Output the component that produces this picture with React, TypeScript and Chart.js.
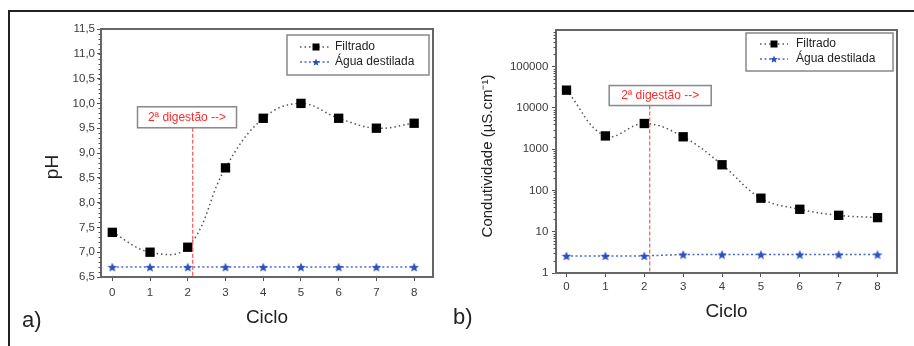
import React, { useEffect, useRef } from 'react';
import { Chart, registerables } from 'chart.js';

Chart.register(...registerables);

// ---------- data ----------
const cycles = [0, 1, 2, 3, 4, 5, 6, 7, 8];
const seriesNames = ['Filtrado', 'Água destilada'];
const phFiltrado = [7.4, 7.0, 7.1, 8.7, 9.7, 10.0, 9.7, 9.5, 9.6];
const phAgua = [6.7, 6.7, 6.7, 6.7, 6.7, 6.7, 6.7, 6.7, 6.7];
const condFiltrado = [27000, 2100, 4200, 2000, 420, 65, 35, 25, 22];
const condAgua = [2.6, 2.6, 2.6, 2.8, 2.8, 2.8, 2.8, 2.8, 2.8];
const phTicks = [6.5, 7.0, 7.5, 8.0, 8.5, 9.0, 9.5, 10.0, 10.5, 11.0, 11.5];
const condTicks = [1, 10, 100, 1000, 10000, 100000];
const noteText = '2ª digestão -->';
const phNote = { lineX: 2.13, boxX: 1.98, boxY: 9.72 };
const condNote = { lineX: 2.14, boxX: 2.41, boxY: 20000 };
const xTitle = 'Ciclo';
const phTitle = 'pH';
const condTitle = 'Condutividade (µS.cm⁻¹)';

const FONT = "'Liberation Sans', Arial, Helvetica, sans-serif";
Chart.defaults.font.family = FONT;

function starImage(size: number, color: string) {
  const c = document.createElement('canvas');
  c.width = size;
  c.height = size;
  const ctx = c.getContext('2d')!;
  const cx = size / 2, cy = size / 2, R = size / 2, r = R * 0.45;
  ctx.beginPath();
  for (let i = 0; i < 10; i++) {
    const ang = -Math.PI / 2 + (i * Math.PI) / 5;
    const rad = i % 2 === 0 ? R : r;
    ctx.lineTo(cx + rad * Math.cos(ang), cy + rad * Math.sin(ang) + 0.5);
  }
  ctx.closePath();
  ctx.fillStyle = color;
  ctx.fill();
  return c;
}

const STAR_COLOR = '#2d51bd';
const starBig = starImage(10, STAR_COLOR);
const starSmall = starImage(8, STAR_COLOR);

// ---------- plugins ----------
const frameAndTicks = {
  id: 'frameAndTicks',
  afterDraw(chart: any, _a: any, o: any) {
    const { ctx, chartArea: a } = chart;
    const y = chart.scales.y;
    ctx.save();
    ctx.strokeStyle = '#666';
    ctx.lineWidth = 2;
    ctx.strokeRect(a.left, a.top, a.right - a.left, a.bottom - a.top);
    const vals: number[] = [];
    if (y.type === 'logarithmic') {
      for (let e = Math.floor(Math.log10(y.min)); Math.pow(10, e) < y.max; e++) {
        for (let k = 2; k <= 9; k++) {
          const v = k * Math.pow(10, e);
          if (v > y.min && v < y.max) vals.push(v);
        }
      }
    } else {
      const n = Math.round((y.max - y.min) / o.minorStep);
      for (let i = 0; i <= n; i++) vals.push(y.min + i * o.minorStep);
    }
    ctx.lineWidth = 1;
    ctx.strokeStyle = '#555';
    ctx.beginPath();
    vals.forEach((v) => {
      const p = Math.round(y.getPixelForValue(v)) + 0.5;
      ctx.moveTo(a.left - 2.5, p);
      ctx.lineTo(a.left, p);
    });
    ctx.stroke();
    ctx.restore();
  },
};

const digestNote = {
  id: 'digestNote',
  afterDatasetsDraw(chart: any, _a: any, o: any) {
    const { ctx, chartArea: a, scales } = chart;
    const x = scales.x, y = scales.y;
    const lx = x.getPixelForValue(o.lineX);
    const bx = x.getPixelForValue(o.boxX);
    const by = y.getPixelForValue(o.boxY);
    const l = bx - o.w / 2, t = by - o.h / 2;
    ctx.save();
    ctx.strokeStyle = '#ff5a5a';
    ctx.lineWidth = 1.2;
    ctx.setLineDash([4, 2]);
    ctx.beginPath();
    ctx.moveTo(lx, t + o.h);
    ctx.lineTo(lx, a.bottom);
    ctx.stroke();
    ctx.setLineDash([]);
    ctx.fillStyle = '#fff';
    ctx.fillRect(l, t, o.w, o.h);
    ctx.strokeStyle = '#888';
    ctx.lineWidth = 1.5;
    ctx.strokeRect(l, t, o.w, o.h);
    ctx.fillStyle = '#ff2a2a';
    ctx.font = `12px ${FONT}`;
    ctx.textAlign = 'center';
    ctx.textBaseline = 'middle';
    ctx.fillText(o.text, bx, by + 0.5);
    ctx.restore();
  },
};

const boxLegend = {
  id: 'boxLegend',
  afterDraw(chart: any, _a: any, o: any) {
    const { ctx, chartArea: a } = chart;
    const left = a.right - o.right - o.width;
    const top = a.top + o.top;
    ctx.save();
    ctx.fillStyle = '#fff';
    ctx.fillRect(left, top, o.width, o.height);
    ctx.strokeStyle = '#888';
    ctx.lineWidth = 1.5;
    ctx.strokeRect(left, top, o.width, o.height);
    chart.data.datasets.forEach((ds: any, i: number) => {
      const yy = top + o.rows[i];
      ctx.setLineDash(ds.borderDash || []);
      ctx.strokeStyle = ds.borderColor;
      ctx.lineWidth = ds.borderWidth;
      ctx.beginPath();
      ctx.moveTo(left + o.lineFrom, yy);
      ctx.lineTo(left + o.lineTo, yy);
      ctx.stroke();
      ctx.setLineDash([]);
      const mx = left + o.marker;
      if (typeof ds.pointStyle === 'string') {
        ctx.fillStyle = ds.pointBackgroundColor;
        ctx.fillRect(mx - 3.5, yy - 3.5, 7, 7);
      } else {
        ctx.drawImage(starSmall, mx - 4, yy - 4);
      }
      ctx.fillStyle = '#222';
      ctx.font = `12px ${FONT}`;
      ctx.textAlign = 'left';
      ctx.textBaseline = 'middle';
      ctx.fillText(ds.label, left + o.text, yy);
    });
    ctx.restore();
  },
};

const textItems = {
  id: 'textItems',
  afterDraw(chart: any, _a: any, o: any) {
    const { ctx } = chart;
    (o.items || []).forEach((t: any) => {
      ctx.save();
      ctx.translate(t.x, t.y);
      ctx.rotate(t.rot || 0);
      ctx.font = `${t.size}px ${FONT}`;
      ctx.fillStyle = t.color || '#222';
      ctx.textAlign = t.align || 'center';
      ctx.textBaseline = 'middle';
      ctx.fillText(t.text, 0, 0);
      ctx.restore();
    });
  },
};

function datasets(filtrado: number[], agua: number[]) {
  return [
    {
      label: seriesNames[0],
      data: cycles.map((c, i) => ({ x: c, y: filtrado[i] })),
      borderColor: '#555',
      borderWidth: 1.5,
      borderDash: [1.5, 3],
      tension: 0.4,
      pointStyle: 'rect',
      pointRadius: 6.6,
      pointBackgroundColor: '#000',
      pointBorderColor: '#000',
      pointBorderWidth: 0,
    },
    {
      label: seriesNames[1],
      data: cycles.map((c, i) => ({ x: c, y: agua[i] })),
      borderColor: '#4a68d6',
      borderWidth: 1.5,
      borderDash: [2, 2.5],
      tension: 0,
      pointStyle: starBig,
      pointRadius: 5,
    },
  ];
}

function xScale(min: number, tickPad: number, titlePad: number) {
  return {
    type: 'linear',
    min,
    max: 8.5,
    afterBuildTicks: (s: any) => {
      s.ticks = cycles.map((v) => ({ value: v }));
    },
    afterFit: (s: any) => {
      s.height = 60;
    },
    grid: { drawOnChartArea: false, drawTicks: true, tickLength: 4, color: '#555' },
    border: { display: false },
    ticks: { padding: tickPad, color: '#3a3a3a', font: { size: 11.5 }, maxRotation: 0, autoSkip: false },
    title: { display: true, text: xTitle, font: { size: 19 }, color: '#222', padding: { top: 0, bottom: titlePad } },
  };
}

function configA(): any {
  return {
    type: 'line',
    data: { datasets: datasets(phFiltrado, phAgua) },
    options: {
      animation: false,
      responsive: false,
      events: [],
      layout: { padding: { left: 0, right: 7, top: 29, bottom: 9 } },
      plugins: {
        legend: { display: false },
        tooltip: { enabled: false },
        frameAndTicks: { minorStep: 0.1 },
        digestNote: { ...phNote, w: 99, h: 21, text: noteText },
        boxLegend: { right: 4, top: 6, width: 142, height: 40, rows: [12, 27], lineFrom: 13, lineTo: 42, marker: 29, text: 48 },
        textItems: {
          items: [
            { text: phTitle, x: 53, y: 167, rot: -Math.PI / 2, size: 19 },
            { text: 'a)', x: 22, y: 321, align: 'left', size: 22 },
          ],
        },
      },
      scales: {
        x: xScale(-0.3, 5, 7.6),
        y: {
          type: 'linear',
          min: 6.5,
          max: 11.5,
          afterBuildTicks: (s: any) => {
            s.ticks = phTicks.map((v) => ({ value: v }));
          },
          afterFit: (s: any) => {
            s.width = 101;
          },
          grid: { drawOnChartArea: false, drawTicks: true, tickLength: 4, color: '#555' },
          border: { display: false },
          ticks: {
            padding: 2,
            color: '#3a3a3a',
            font: { size: 11.5 },
            callback: (v: number) => v.toFixed(1).replace('.', ','),
          },
        },
      },
    },
    plugins: [frameAndTicks, digestNote, boxLegend, textItems],
  };
}

function configB(): any {
  return {
    type: 'line',
    data: { datasets: datasets(condFiltrado, condAgua) },
    options: {
      animation: false,
      responsive: false,
      events: [],
      layout: { padding: { left: 0, right: 17, top: 30, bottom: 13 } },
      plugins: {
        legend: { display: false },
        tooltip: { enabled: false },
        frameAndTicks: {},
        digestNote: { ...condNote, w: 102, h: 20, text: noteText },
        boxLegend: { right: 4, top: 3, width: 147, height: 38, rows: [11, 26], lineFrom: 14, lineTo: 42, marker: 28, text: 50 },
        textItems: {
          items: [
            { text: condTitle, x: 48, y: 156, rot: -Math.PI / 2, size: 15 },
            { text: 'b)', x: 13, y: 318, align: 'left', size: 22 },
          ],
        },
      },
      scales: {
        x: xScale(-0.27, 3, 9.6),
        y: {
          type: 'logarithmic',
          min: 1,
          max: 775000,
          afterBuildTicks: (s: any) => {
            s.ticks = condTicks.map((v) => ({ value: v }));
          },
          afterFit: (s: any) => {
            s.width = 116;
          },
          grid: { drawOnChartArea: false, drawTicks: true, tickLength: 4, color: '#555' },
          border: { display: false },
          ticks: {
            padding: 3.7,
            color: '#3a3a3a',
            font: { size: 11.5 },
            autoSkip: false,
            callback: (v: number) => String(v),
          },
        },
      },
    },
    plugins: [frameAndTicks, digestNote, boxLegend, textItems],
  };
}

function Panel({ left, width, make }: { left: number; width: number; make: () => any }) {
  const ref = useRef<HTMLCanvasElement | null>(null);
  useEffect(() => {
    const chart = new Chart(ref.current!, make());
    return () => chart.destroy();
  }, []);
  return (
    <div style={{ position: 'absolute', left, top: 0, width, height: 346 }}>
      <canvas ref={ref} width={width} height={346} style={{ display: 'block' }} />
    </div>
  );
}

export default function App() {
  useEffect(() => {
    document.body.style.margin = '0';
  }, []);
  return (
    <div style={{ position: 'fixed', left: 0, top: 0, width: 914, height: 346, background: '#fff', overflow: 'hidden' }}>
      <Panel left={0} width={440} make={configA} />
      <Panel left={440} width={474} make={configB} />
      <div
        style={{
          position: 'absolute',
          left: 8,
          top: 10,
          width: 920,
          height: 360,
          borderTop: '2px solid #222',
          borderLeft: '2px solid #222',
          pointerEvents: 'none',
        }}
      />
    </div>
  );
}
